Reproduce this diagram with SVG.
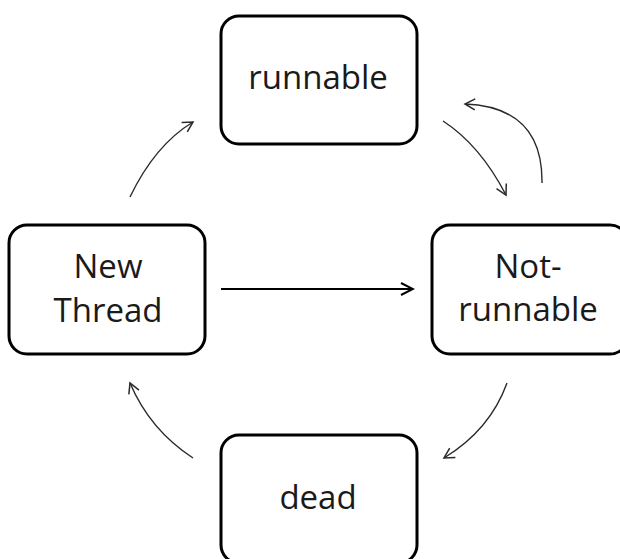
<svg xmlns="http://www.w3.org/2000/svg" width="620" height="559" viewBox="0 0 620 559">
  <style>
    .box { fill: #ffffff; stroke: #000000; stroke-width: 3; }
    .lbl { font-family: "Open Sans", "Liberation Sans", sans-serif; font-size: 33px; fill: #1a1a1a; text-anchor: middle; }
    .thin { fill: none; stroke: #2a2a2a; stroke-width: 1.4; marker-end: url(#headThin); }
    .thick { fill: none; stroke: #000000; stroke-width: 2; marker-end: url(#headThick); }
  </style>
  <defs>
    <marker id="headThin" markerUnits="userSpaceOnUse" viewBox="0 0 14 14" markerWidth="14" markerHeight="14" refX="12" refY="7" orient="auto">
      <path d="M2,1.5 L12,7 L2,12.5" fill="none" stroke="#2a2a2a" stroke-width="1.5"/>
    </marker>
    <marker id="headThick" markerUnits="userSpaceOnUse" viewBox="0 0 16 16" markerWidth="16" markerHeight="16" refX="14" refY="8" orient="auto">
      <path d="M2,2 L14,8 L2,14" fill="none" stroke="#000000" stroke-width="2"/>
    </marker>
  </defs>
  <rect width="620" height="559" fill="#ffffff"/>
  <g id="connectors">
    <path class="thick" d="M221,289 L413,289"/>
    <path class="thin" d="M130,197 Q155,145 193,122"/>
    <path class="thin" d="M443,121 Q480,145 506,195"/>
    <path class="thin" d="M542,183 Q543,107 465,104"/>
    <path class="thin" d="M507,383 Q490,430 444,458"/>
    <path class="thin" d="M193,458 Q150,430 130,383"/>
  </g>
  <g id="runnable">
    <rect class="box" x="221" y="16" width="196" height="128" rx="18" ry="18"/>
    <text class="lbl" x="318" y="89">runnable</text>
  </g>
  <g id="new-thread">
    <rect class="box" x="9" y="225" width="196" height="129" rx="18" ry="18"/>
    <text class="lbl" x="108" y="278">New</text>
    <text class="lbl" x="108" y="322">Thread</text>
  </g>
  <g id="not-runnable">
    <rect class="box" x="432" y="225" width="196" height="129" rx="18" ry="18"/>
    <text class="lbl" x="528" y="278">Not-</text>
    <text class="lbl" x="528" y="321">runnable</text>
  </g>
  <g id="dead">
    <rect class="box" x="221" y="435" width="196" height="128" rx="18" ry="18"/>
    <text class="lbl" x="318" y="509">dead</text>
  </g>
</svg>
